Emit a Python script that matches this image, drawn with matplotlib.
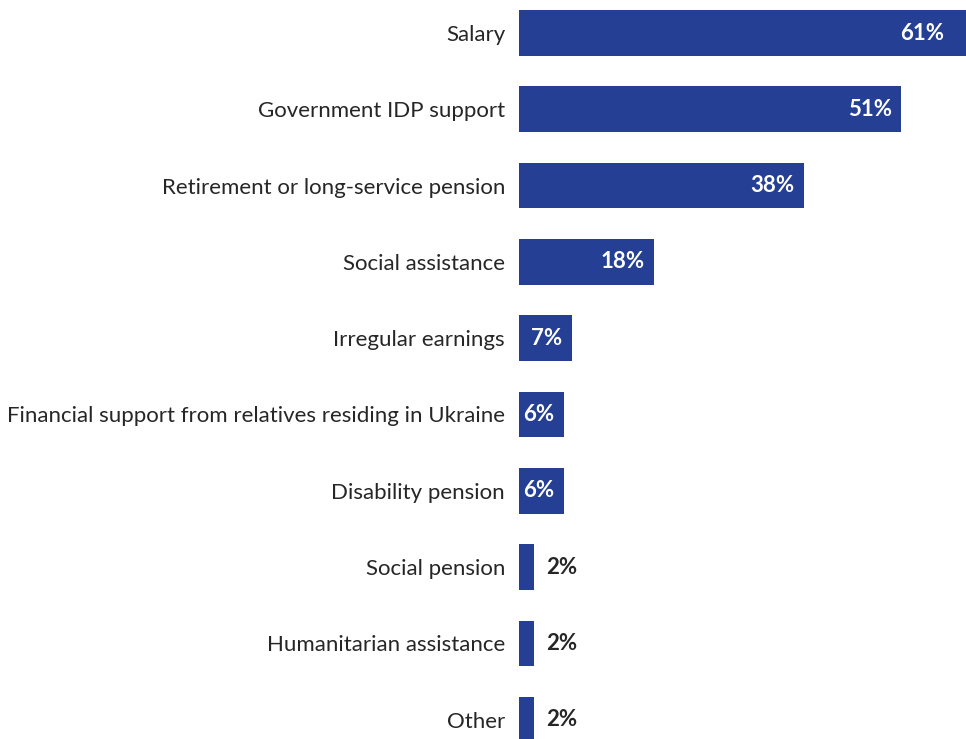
import matplotlib
matplotlib.use("Agg")
import matplotlib.pyplot as plt

# income sources, share of respondents (%)
categories = [
    "Salary",
    "Government IDP support",
    "Retirement or long-service pension",
    "Social assistance",
    "Irregular earnings",
    "Financial support from relatives residing in Ukraine",
    "Disability pension",
    "Social pension",
    "Humanitarian assistance",
    "Other",
]
shares = [61, 51, 38, 18, 7, 6, 6, 2, 2, 2]

BAR_COLOR = "#243F93"
TEXT_COLOR = "#262626"
FONT = ["Lato", "DejaVu Sans"]

W, H, DPI = 966, 739, 100
fig = plt.figure(figsize=(W / DPI, H / DPI), dpi=DPI)

# axes runs a little past the canvas on the right/top/bottom, so the longest
# bar and the outer rows get cut by the figure edge
left_px, px_per_unit = 519, 7.5
xmax = 62
ax_w_px = xmax * px_per_unit
row_px = 76.3
top_px = 33 - row_px / 2
ax_h_px = row_px * len(categories)
ax = fig.add_axes([left_px / W, (H - top_px - ax_h_px) / H, ax_w_px / W, ax_h_px / H])

ypos = list(range(len(categories)))
ax.barh(ypos, shares, height=0.6, color=BAR_COLOR)
ax.set_xlim(0, xmax)
ax.set_ylim(len(categories) - 0.5, -0.5)

ax.set_yticks(ypos)
ax.set_yticklabels(categories, fontsize=16, color=TEXT_COLOR, family=FONT)
ax.tick_params(axis="y", length=0, pad=10)
ax.set_xticks([])
for s in ax.spines.values():
    s.set_visible(False)

# last x value still on the canvas; labels of longer bars stay inside it
x_visible = (W - left_px - 12) / px_per_unit

for y, v in zip(ypos, shares):
    if v >= 5:
        ax.annotate(f"{v}%", (min(v, x_visible), y), xytext=(-7, 0),
                    textcoords="offset points", ha="right", va="center",
                    fontsize=16, fontweight="bold", color="white", family=FONT)
    else:
        ax.annotate(f"{v}%", (v, y), xytext=(9, 0), textcoords="offset points",
                    ha="left", va="center", fontsize=16, fontweight="bold",
                    color=TEXT_COLOR, family=FONT)

fig.savefig("out.png", dpi=DPI)
